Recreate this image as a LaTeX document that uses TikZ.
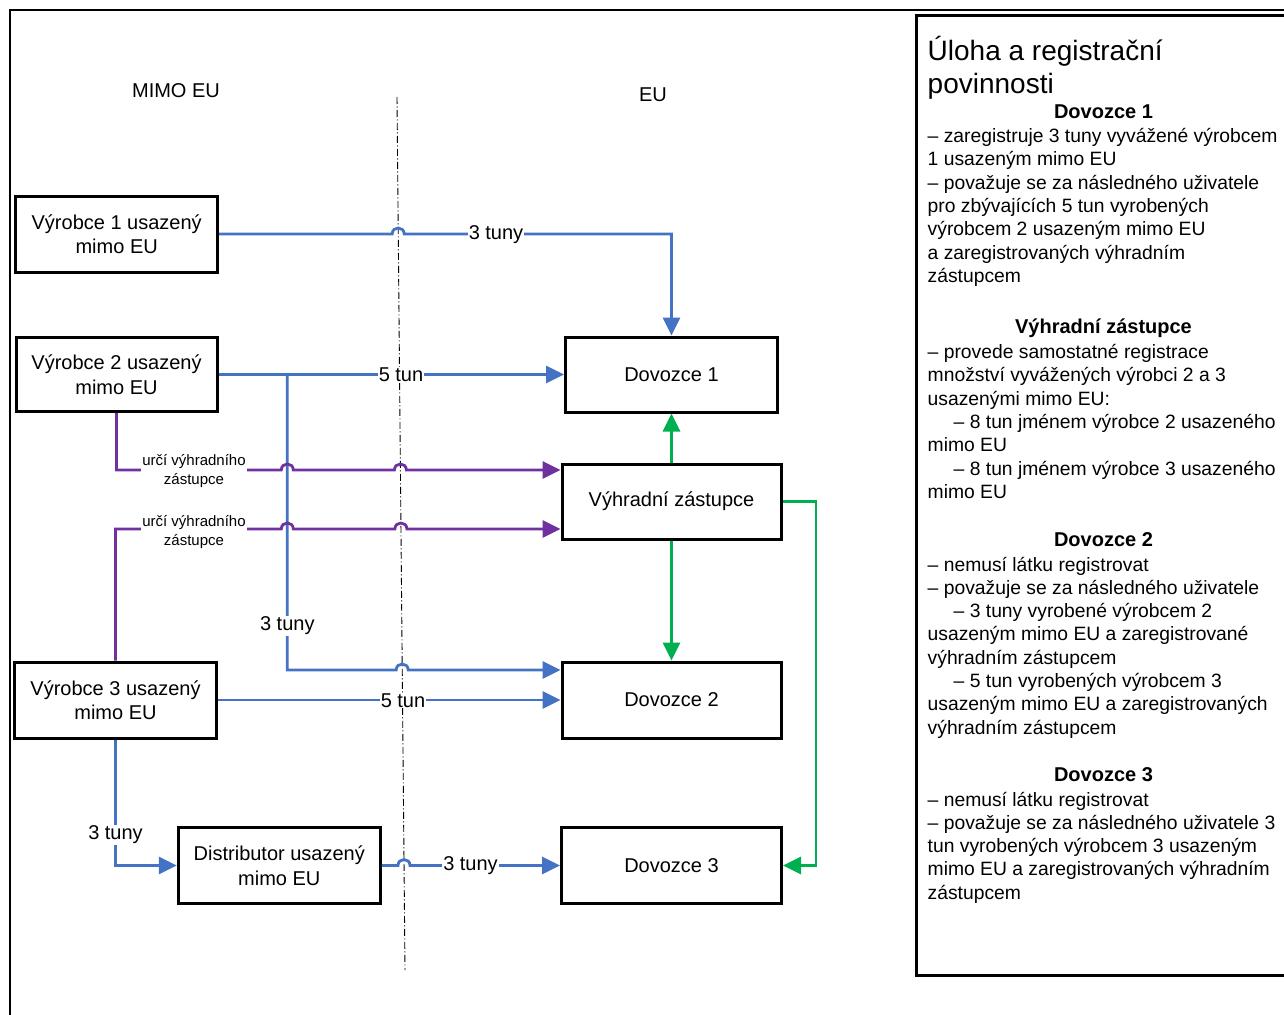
\documentclass[tikz,border=0pt]{standalone}
\usepackage{fontspec}
\setmainfont{Liberation Sans}
\usetikzlibrary{arrows.meta}
\definecolor{flowblue}{HTML}{4472C4}
\definecolor{flowpurple}{HTML}{7030A0}
\definecolor{flowgreen}{HTML}{00B050}

\begin{document}
\begin{tikzpicture}[x=1pt,y=-1pt,
  every node/.style={font=\fontsize{20}{24.5}\selectfont},
  box/.style={draw, line width=3pt, align=center, inner sep=2pt},
  conn/.style={line width=2.8pt, -{Triangle[length=18pt,width=17pt]}},
  bluel/.style={conn, draw=flowblue, color=flowblue},
  purl/.style={conn, draw=flowpurple, color=flowpurple},
  greenl/.style={conn, draw=flowgreen, color=flowgreen},
  lbl/.style={fill=white, inner sep=1pt},
  slbl/.style={fill=white, inner sep=1.5pt, align=center, font=\fontsize{15}{19}\selectfont},
  ptxt/.style={anchor=base west, inner sep=0pt, font=\fontsize{19.3}{23.3}\selectfont},
  phead/.style={anchor=base, inner sep=0pt, font=\bfseries\fontsize{20}{24}\selectfont},
  ptitle/.style={anchor=base west, inner sep=0pt, font=\fontsize{28}{33}\selectfont},
  jump/.style 2 args={insert path={-- ({#1-6},#2) .. controls ({#1-6},{#2-8}) and ({#1+6},{#2-8}) .. ({#1+6},#2)}}
]
\useasboundingbox (0,0) rectangle (1284,1014);
\clip (0,0) rectangle (1284,1014);

% outer frame and information panel
\draw[line width=2pt] (10,1030) -- (10,10) -- (1300,10);
\draw[line width=3pt] (1300,15.5) -- (916,15.5) -- (916,975) -- (1300,975);

% border between non-EU and EU
\coordinate (bt) at (397,97);
\coordinate (bb) at (405,970);
\draw[line width=0.9pt, dash pattern=on 7pt off 2.5pt on 1pt off 2.5pt] (bt) -- (bb);

\node (mimo) at (176,91) {MIMO EU};
\node (eu) at (653,95) {EU};

% actors
\node[box, minimum width=202pt, minimum height=76pt] (v1) at (116.7,234) {Výrobce 1 usazený\\mimo EU};
\node[box, minimum width=201pt, minimum height=74pt] (v2) at (116.5,374.5) {Výrobce 2 usazený\\mimo EU};
\node[box, minimum width=202pt, minimum height=76pt] (v3) at (115.5,700) {Výrobce 3 usazený\\mimo EU};
\node[box, minimum width=202pt, minimum height=76pt] (dist) at (279.3,865.5) {Distributor usazený\\mimo EU};
\node[box, minimum width=212pt, minimum height=75pt] (d1) at (671.5,374.5) {Dovozce 1};
\node[box, minimum width=219pt, minimum height=75pt] (vz) at (671.5,501.5) {Výhradní zástupce};
\node[box, minimum width=219pt, minimum height=76pt] (d2) at (671.5,700) {Dovozce 2};
\node[box, minimum width=220pt, minimum height=76pt] (d3) at (671.5,865.5) {Dovozce 3};

% quantities supplied
\coordinate (br) at (287.3,374.5);
\draw[bluel] (v1.east) [jump={398.2}{234}] -- (671.5,234) -- (d1.north);
\draw[bluel] (v2.east) -- (d1.west);
\draw[bluel] (br) -- (287.3,670) [jump={402.2}{670}] -- (d2.west |- 0,670);
\draw[bluel] (v3.east) -- (d2.west);
\draw[bluel] (v3.south) |- (dist.west);
\draw[bluel] (dist.east) [jump={404}{865.5}] -- (d3.west);

% appointment of the only representative
\draw[purl] (v2.south) -- (116.5,470) [jump={287.3}{470}] [jump={400.4}{470}] -- (vz.west |- 0,470);
\draw[purl] (v3.north) -- (115.5,529) [jump={287.3}{529}] [jump={400.9}{529}] -- (vz.west |- 0,529);

% representative to importers
\draw[greenl] (vz.north) -- (d1.south);
\draw[greenl] (vz.south) -- (d2.north);
\draw[greenl] (vz.east) -- (816,501.5) |- (d3.east);

% connector labels
\node[lbl] (l1) at (496,234.5) {3 tuny};
\node[lbl] (l2) at (401,375) {5 tun};
\node[lbl] (l3) at (287.3,626) {3 tuny};
\node[lbl] (l4) at (403,700.5) {5 tun};
\node[lbl] (l5) at (115.5,835) {3 tuny};
\node[lbl] (l6) at (470.5,866) {3 tuny};
\node[slbl] (l7) at (194,471) {určí výhradního\\zástupce};
\node[slbl] (l8) at (194,532) {určí výhradního\\zástupce};

% information panel text
\node[ptitle] (t1) at (927.5,61) {Úloha a registrační};
\node[ptitle] (t2) at (927.5,94) {povinnosti};

\node[phead] (h1) at (1103.5,118.5) {Dovozce 1};
\foreach \t [count=\i from 0] in {– zaregistruje 3 tuny vyvážené výrobcem,
  1 usazeným mimo EU,
  – považuje se za následného uživatele,
  pro zbývajících 5 tun vyrobených,
  výrobcem 2 usazeným mimo EU,
  a zaregistrovaných výhradním,
  zástupcem}
  \node[ptxt] (a\i) at (927.5,{142.5+23.3*\i}) {\t};

\node[phead] (h2) at (1103.5,333) {Výhradní zástupce};
\foreach \t [count=\i from 0] in {– provede samostatné registrace,
  množství vyvážených výrobci 2 a 3,
  usazenými mimo EU:,
  \hspace*{26pt}– 8 tun jménem výrobce 2 usazeného,
  mimo EU,
  \hspace*{26pt}– 8 tun jménem výrobce 3 usazeného,
  mimo EU}
  \node[ptxt] (b\i) at (927.5,{358.5+23.3*\i}) {\t};

\node[phead] (h3) at (1103.5,546) {Dovozce 2};
\foreach \t [count=\i from 0] in {– nemusí látku registrovat,
  – považuje se za následného uživatele,
  \hspace*{26pt}– 3 tuny vyrobené výrobcem 2,
  usazeným mimo EU a zaregistrované,
  výhradním zástupcem,
  \hspace*{26pt}– 5 tun vyrobených výrobcem 3,
  usazeným mimo EU a zaregistrovaných,
  výhradním zástupcem}
  \node[ptxt] (c\i) at (927.5,{571+23.3*\i}) {\t};

\node[phead] (h4) at (1103.5,781) {Dovozce 3};
\foreach \t [count=\i from 0] in {– nemusí látku registrovat,
  – považuje se za následného uživatele 3,
  tun vyrobených výrobcem 3 usazeným,
  mimo EU a zaregistrovaných výhradním,
  zástupcem}
  \node[ptxt] (e\i) at (927.5,{806+23.3*\i}) {\t};
\end{tikzpicture}
\end{document}
